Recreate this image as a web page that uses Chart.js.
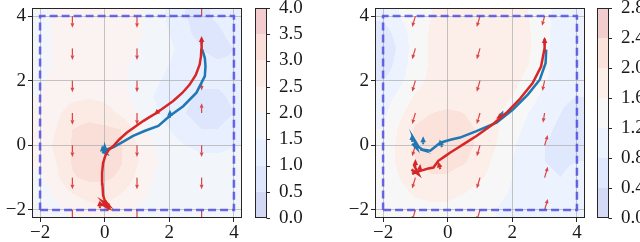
<!DOCTYPE html>
<html>
<head>
<meta charset="utf-8">
<script src="https://cdn.jsdelivr.net/npm/chart.js@4.4.0/dist/chart.umd.min.js"></script>
<style>
  html, body { margin: 0; padding: 0; background: #fff; }
  #wrap { display: flex; width: 640px; height: 242px; }
  canvas { display: block; }
</style>
</head>
<body>
<div id="wrap">
  <canvas id="c1" width="320" height="242"></canvas>
  <canvas id="c2" width="320" height="242"></canvas>
</div>
<script>
// --- datos ---
const axisTicks = [-2, 0, 2, 4];
const gridX = [-2, -1.5, -1, -0.5, 0, 0.5, 1, 1.5, 2, 2.5, 3, 3.5, 4];
const gridY = [4, 3.5, 3, 2.5, 2, 1.5, 1, 0.5, 0, -0.5, -1, -1.5, -2];

const levelsLeft = [0, 0.5, 1, 1.5, 2, 2.5, 3, 3.5, 4];
const levelsRight = [0, 0.4, 0.8, 1.2, 1.6, 2.0, 2.4, 2.8];

// campo de fondo (filas = gridY, columnas = gridX)
const fieldLeft = [
  [1.8, 2.1, 2.2, 2.3, 2.3, 2.2, 2.1, 1.8, 1.4, 1.0, 0.9, 1.1, 1.4],
  [1.8, 2.1, 2.3, 2.3, 2.3, 2.2, 2.1, 1.8, 1.5, 1.1, 0.8, 0.9, 1.2],
  [1.8, 2.1, 2.3, 2.4, 2.3, 2.2, 2.0, 1.8, 1.6, 1.3, 1.0, 0.8, 1.0],
  [1.8, 2.1, 2.3, 2.4, 2.3, 2.1, 1.9, 1.7, 1.5, 1.3, 1.2, 1.1, 1.1],
  [1.9, 2.2, 2.4, 2.5, 2.4, 2.1, 1.8, 1.6, 1.4, 1.2, 1.1, 1.1, 1.2],
  [2.0, 2.3, 2.4, 2.45, 2.4, 2.2, 1.8, 1.5, 1.3, 1.1, 0.9, 0.9, 1.1],
  [2.1, 2.4, 2.7, 2.8, 2.7, 2.4, 2.0, 1.6, 1.3, 1.0, 0.8, 0.8, 1.0],
  [2.2, 2.5, 3.0, 3.15, 3.1, 3.0, 2.3, 1.8, 1.5, 1.2, 1.0, 1.0, 1.2],
  [2.2, 2.6, 3.05, 3.3, 3.25, 3.05, 2.5, 2.0, 1.7, 1.5, 1.4, 1.4, 1.5],
  [2.1, 2.5, 3.05, 3.3, 3.3, 3.05, 2.55, 2.1, 1.8, 1.7, 1.6, 1.6, 1.6],
  [1.9, 2.4, 2.95, 3.1, 3.1, 2.9, 2.4, 2.0, 1.8, 1.7, 1.7, 1.7, 1.7],
  [1.7, 2.1, 2.5, 2.7, 2.7, 2.5, 2.2, 1.9, 1.8, 1.7, 1.7, 1.7, 1.7],
  [1.6, 1.8, 2.1, 2.3, 2.4, 2.2, 2.0, 1.8, 1.7, 1.7, 1.6, 1.6, 1.6]
];
const fieldRight = [
  [0.9, 1.2, 1.45, 1.6, 1.7, 1.75, 1.75, 1.75, 1.7, 1.6, 1.35, 1.0, 0.8],
  [0.6, 1.0, 1.4, 1.65, 1.8, 1.9, 1.95, 1.9, 1.8, 1.65, 1.3, 1.0, 0.9],
  [0.4, 0.9, 1.4, 1.65, 1.8, 1.9, 1.95, 1.95, 1.85, 1.65, 1.3, 1.0, 1.0],
  [0.5, 1.0, 1.4, 1.65, 1.8, 1.9, 1.95, 1.9, 1.8, 1.6, 1.3, 1.0, 1.0],
  [0.8, 1.1, 1.45, 1.7, 1.8, 1.9, 1.9, 1.85, 1.7, 1.5, 1.25, 1.0, 1.0],
  [1.0, 1.3, 1.65, 1.8, 1.85, 1.85, 1.85, 1.75, 1.6, 1.35, 1.1, 0.9, 0.8],
  [1.1, 1.5, 1.85, 2.0, 2.05, 2.0, 1.85, 1.65, 1.45, 1.2, 1.0, 0.8, 0.6],
  [1.2, 1.65, 2.05, 2.2, 2.2, 2.1, 1.95, 1.65, 1.35, 1.1, 0.9, 0.7, 0.6],
  [1.3, 1.7, 2.05, 2.25, 2.3, 2.15, 1.9, 1.6, 1.25, 1.0, 0.8, 0.7, 0.7],
  [1.3, 1.7, 2.0, 2.15, 2.15, 2.05, 1.8, 1.5, 1.2, 1.0, 0.8, 0.75, 0.8],
  [1.3, 1.6, 1.85, 1.95, 1.95, 1.8, 1.65, 1.45, 1.2, 1.0, 0.85, 0.8, 0.9],
  [1.3, 1.45, 1.65, 1.7, 1.7, 1.6, 1.45, 1.3, 1.15, 0.95, 0.85, 0.85, 0.9],
  [1.3, 1.35, 1.45, 1.5, 1.5, 1.4, 1.3, 1.2, 1.05, 0.9, 0.8, 0.8, 0.85]
];

// flechas [x, y, u, v]
const quiverLeft = [
  [-1, 4, 0, -0.36], [-1, 3, 0, -0.36], [-1, 2, 0, -0.36], [-1, 1, 0, -0.36],
  [-1, 0, 0, -0.36], [-1, -1, 0, -0.36], [-1, -2, 0, -0.36],
  [1, 4, 0, -0.36], [1, 3, 0, -0.36], [1, 2, 0, -0.36], [1, 1, 0, -0.36],
  [1, 0, 0, -0.36], [1, -1, 0, -0.36], [1, -2, 0, -0.36],
  [3, 4, 0, 0.36], [3, 2, 0, -0.3], [3, 1, 0, 0.3],
  [3, 0, 0, -0.36], [3, -1, 0, -0.36], [3, -2, 0, -0.36]
];
const quiverRight = [
  [-1, 4, -0.1, -0.34], [-1, 3, -0.1, -0.34], [-1, 2, -0.1, -0.34], [-1, 1, -0.1, -0.34],
  [-1, 0, -0.1, -0.34], [-1, -1, -0.1, -0.34], [-1, -2, -0.1, -0.34],
  [1, 4, -0.1, -0.34], [1, 3, -0.1, -0.34], [1, 2, -0.1, -0.34], [1, 1, -0.1, -0.34],
  [1, 0, -0.1, -0.34], [1, -1, -0.1, -0.34], [1, -2, -0.1, -0.34],
  [3, 4, -0.08, -0.3], [3, 2, -0.07, -0.32], [3, 1, -0.05, -0.3],
  [3, 0, 0.1, 0.32], [3, -1, 0.1, 0.34], [3, -2, 0.1, 0.34]
];

// trayectorias [x, y]
const redLeft = [[0.05,-1.9],[-0.15,-1.8],[0.1,-1.92],[-0.05,-1.75],[0.12,-1.85],[0.0,-1.7],[-0.05,-1.55],
  [-0.07,-1.2],[-0.08,-0.85],[-0.05,-0.55],[0.02,-0.32],[0.12,-0.15],[0.26,-0.03],[0.45,0.18],[0.68,0.39],
  [0.95,0.58],[1.19,0.75],[1.4,0.88],[1.6,1.0],[1.85,1.18],[2.12,1.37],[2.4,1.62],[2.63,1.88],[2.82,2.18],
  [2.94,2.5],[2.98,2.75],[2.99,2.96],[3.0,3.3]];
const blueLeft = [[0.0,-0.2],[-0.06,-0.1],[0.05,-0.25],[-0.03,-0.22],[0.0,-0.05],[0.04,-0.18],[0.1,-0.12],
  [0.26,-0.06],[0.55,0.1],[0.88,0.29],[1.25,0.45],[1.66,0.6],[2.0,0.9],[2.43,1.21],[2.84,1.63],[3.1,2.14],
  [3.12,2.45],[3.1,2.7],[3.02,2.96]];
const redRight = [[-1.0,-0.85],[-1.12,-0.75],[-0.9,-0.9],[-1.05,-0.6],[-0.95,-0.8],[-1.1,-0.88],[-0.85,-0.79],
  [-0.6,-0.72],[-0.44,-0.69],[-0.29,-0.48],[-0.1,-0.35],[0.07,-0.23],[0.28,-0.1],[0.48,0.03],[0.89,0.29],
  [1.4,0.65],[1.81,1.0],[2.22,1.42],[2.63,1.93],[2.89,2.44],[2.99,2.96],[3.0,3.3]];
const blueRight = [[-1.1,0.05],[-0.95,-0.1],[-1.05,0.2],[-0.9,-0.05],[-0.75,-0.15],[-0.85,-0.12],[-0.54,-0.17],
  [-0.23,0.08],[0.08,0.17],[0.38,0.24],[0.89,0.44],[1.51,0.7],[2.02,1.11],[2.48,1.57],[2.85,2.03],
  [3.03,2.54],[3.05,2.96]];

// puntas de flecha sobre las trayectorias [x, y, dx, dy]
const redHeadsLeft = [[3.0,3.38,0,1],[1.52,0.94,-1,-0.8],[-0.15,-1.7,0,1],[0.05,-1.7,0,1],[0.14,-1.78,0.2,1]];
const blueHeadsLeft = [[0.0,0.05,0,1],[-0.08,0.0,-0.1,1],[2.02,1.1,0,1]];
const redHeadsRight = [[3.0,3.35,0,1],[-1.0,-0.42,0,1],[-0.85,-0.58,0.1,1],[-0.3,-0.5,-0.3,1],[1.5,0.82,-1,-0.6]];
const blueHeadsRight = [[-1.1,0.35,0,1],[-0.76,0.28,0,1],[-0.25,0.18,-0.3,1],[1.72,1.08,0.4,1]];

const boxCorners = [[-2,-2],[4,-2],[4,4],[-2,4],[-2,-2]];

// --- colores ---
const coolwarm = [[59,76,192],[98,130,234],[141,176,254],[184,208,249],[221,221,221],
  [245,196,173],[244,154,123],[222,96,77],[180,4,38]];
const FIELD_ALPHA = 0.25;
const FONT = { family: "'Liberation Serif', 'DejaVu Serif', serif", size: 19 };
const INK = '#1a1a1a';

function cmap(t) {
  const f = Math.max(0, Math.min(1, t)) * (coolwarm.length - 1);
  const i = Math.min(coolwarm.length - 2, Math.floor(f)), r = f - i;
  return coolwarm[i].map((c, k) => c + (coolwarm[i + 1][k] - c) * r);
}
function bandColors(levels) {
  const lo = levels[0], hi = levels[levels.length - 1];
  const out = [];
  for (let i = 0; i < levels.length - 1; i++) {
    const mid = (levels[i] + levels[i + 1]) / 2;
    const c = cmap((mid - lo) / (hi - lo));
    out.push(c.map(v => Math.round(255 - (255 - v) * FIELD_ALPHA)));
  }
  return out;
}
function sampleField(field, x, y) {
  let fx = (x - gridX[0]) / 0.5, fy = (gridY[0] - y) / 0.5;
  fx = Math.max(0, Math.min(gridX.length - 1, fx));
  fy = Math.max(0, Math.min(gridY.length - 1, fy));
  const i = Math.min(gridX.length - 2, Math.floor(fx)), j = Math.min(gridY.length - 2, Math.floor(fy));
  const rx = fx - i, ry = fy - j;
  const a = field[j][i], b = field[j][i + 1], c = field[j + 1][i], d = field[j + 1][i + 1];
  return (a * (1 - rx) + b * rx) * (1 - ry) + (c * (1 - rx) + d * rx) * ry;
}
function fmtTick(v) { return v < 0 ? '\u2212' + Math.abs(v) : String(v); }

function drawArrow(ctx, x0, y0, x1, y1, color, width, headLen, headW) {
  const len = Math.hypot(x1 - x0, y1 - y0);
  ctx.save();
  ctx.translate(x0, y0);
  ctx.rotate(Math.atan2(y1 - y0, x1 - x0));
  ctx.fillStyle = color;
  ctx.fillRect(0, -width / 2, Math.max(0, len - headLen), width);
  ctx.beginPath();
  ctx.moveTo(len, 0);
  ctx.lineTo(len - headLen, headW / 2);
  ctx.lineTo(len - headLen, -headW / 2);
  ctx.closePath();
  ctx.fill();
  ctx.restore();
}

// --- plugins ---
const fieldPlugin = {
  id: 'field',
  beforeDraw(chart, args, o) {
    const { ctx, chartArea: a, scales: { x, y } } = chart;
    const w = Math.round(a.right - a.left), h = Math.round(a.bottom - a.top);
    const cols = bandColors(o.levels);
    const off = document.createElement('canvas');
    off.width = w; off.height = h;
    const octx = off.getContext('2d');
    const img = octx.createImageData(w, h);
    for (let j = 0; j < h; j++) {
      const dy = y.getValueForPixel(a.top + j + 0.5);
      for (let i = 0; i < w; i++) {
        const dx = x.getValueForPixel(a.left + i + 0.5);
        const v = sampleField(o.field, dx, dy);
        let k = Math.floor((v - o.levels[0]) / (o.levels[1] - o.levels[0]));
        k = Math.max(0, Math.min(cols.length - 1, k));
        const p = (j * w + i) * 4;
        img.data[p] = cols[k][0]; img.data[p + 1] = cols[k][1]; img.data[p + 2] = cols[k][2]; img.data[p + 3] = 255;
      }
    }
    octx.putImageData(img, 0, 0);
    ctx.drawImage(off, a.left, a.top);
  }
};

const quiverPlugin = {
  id: 'quiver',
  beforeDatasetsDraw(chart, args, o) {
    const { ctx, chartArea: a, scales: { x, y } } = chart;
    ctx.save();
    ctx.beginPath(); ctx.rect(a.left, a.top, a.right - a.left, a.bottom - a.top); ctx.clip();
    o.arrows.forEach(([px, py, u, v]) => {
      drawArrow(ctx, x.getPixelForValue(px), y.getPixelForValue(py),
        x.getPixelForValue(px + u), y.getPixelForValue(py + v), 'rgba(214,39,40,0.85)', 1.2, 4.5, 3.8);
    });
    ctx.restore();
  },
  afterDatasetsDraw(chart, args, o) {
    const { ctx, scales: { x, y } } = chart;
    const heads = (list, color) => list.forEach(([px, py, dx, dy]) => {
      const tx = x.getPixelForValue(px), ty = y.getPixelForValue(py);
      const n = Math.hypot(dx, dy);
      drawArrow(ctx, tx - dx / n * 8, ty + dy / n * 8, tx, ty, color, 2, 6, 5.5);
    });
    heads(o.blueHeads, '#1f77b4');
    heads(o.redHeads, '#d62728');
  },
  afterDraw(chart, args, o) {
    const { ctx, chartArea: a } = chart;
    const cb = chart.scales.cb;
    const cols = bandColors(o.levels);
    const x0 = cb.left + o.cbGap, cw = 11;
    for (let i = 0; i < cols.length; i++) {
      const y1 = cb.getPixelForValue(o.levels[i]), y2 = cb.getPixelForValue(o.levels[i + 1]);
      ctx.fillStyle = `rgb(${cols[i].join(',')})`;
      ctx.fillRect(x0, y2, cw, y1 - y2);
    }
    ctx.strokeStyle = '#262626';
    ctx.lineWidth = 1;
    ctx.strokeRect(x0 + 0.5, a.top + 0.5, cw, a.bottom - a.top - 1);
    ctx.beginPath();
    o.levels.forEach(l => {
      const ty = Math.round(cb.getPixelForValue(l)) + 0.5;
      ctx.moveTo(x0 + cw + 0.5, ty); ctx.lineTo(x0 + cw + 4, ty);
    });
    ctx.stroke();
    // marco de los ejes
    ctx.strokeRect(Math.round(a.left) + 0.5, Math.round(a.top) + 0.5, Math.round(a.right - a.left) - 1, Math.round(a.bottom - a.top) - 1);
  }
};

function pts(list) { return list.map(p => ({ x: p[0], y: p[1] })); }

function makePanel(id, cfg) {
  const gridOpts = { color: 'rgba(176,176,176,0.75)', lineWidth: 1, tickColor: '#262626', tickLength: 4, tickWidth: 1 };
  new Chart(document.getElementById(id), {
    type: 'scatter',
    data: {
      datasets: [
        { data: pts(cfg.red), showLine: true, borderColor: '#d62728', borderWidth: 2.5, pointRadius: 0, tension: 0 },
        { data: pts(cfg.blue), showLine: true, borderColor: '#1f77b4', borderWidth: 2.5, pointRadius: 0, tension: 0 },
        { data: pts(boxCorners), showLine: true, borderColor: 'rgba(70,70,230,0.8)', borderWidth: 2.5,
          borderDash: [8, 4], pointRadius: 0 }
      ]
    },
    options: {
      responsive: false,
      animation: false,
      devicePixelRatio: 1,
      layout: { padding: { top: 8, left: 0, right: 0, bottom: 0 } },
      plugins: {
        legend: { display: false },
        tooltip: { enabled: false },
        field: { field: cfg.field, levels: cfg.levels },
        quiver: { arrows: cfg.quiver, redHeads: cfg.redHeads, blueHeads: cfg.blueHeads, levels: cfg.levels, cbGap: cfg.cbGap }
      },
      scales: {
        x: {
          type: 'linear', min: -2.25, max: 4.25,
          afterBuildTicks: s => { s.ticks = axisTicks.map(v => ({ value: v })); },
          ticks: { callback: fmtTick, font: FONT, color: INK, padding: 0, autoSkip: false, maxRotation: 0 },
          grid: gridOpts, border: { display: false },
          afterFit: s => { s.height = 24; s.paddingLeft = 0; s.paddingRight = 0; }
        },
        y: {
          type: 'linear', min: -2.25, max: 4.25,
          afterBuildTicks: s => { s.ticks = axisTicks.map(v => ({ value: v })); },
          ticks: { callback: fmtTick, font: FONT, color: INK, padding: 2, autoSkip: false },
          grid: gridOpts, border: { display: false },
          afterFit: s => { s.width = cfg.leftW; s.paddingTop = 0; s.paddingBottom = 0; }
        },
        cb: {
          type: 'linear', position: 'right', min: cfg.levels[0], max: cfg.levels[cfg.levels.length - 1],
          afterBuildTicks: s => { s.ticks = cfg.levels.map(v => ({ value: v })); },
          ticks: { callback: v => v.toFixed(1), font: FONT, color: INK, padding: cfg.cbGap + 16, autoSkip: false },
          grid: { display: false }, border: { display: false },
          afterFit: s => { s.width = cfg.cbW; s.paddingTop = 0; s.paddingBottom = 0; }
        }
      }
    },
    plugins: [fieldPlugin, quiverPlugin]
  });
}

makePanel('c1', { field: fieldLeft, levels: levelsLeft, quiver: quiverLeft, red: redLeft, blue: blueLeft,
  redHeads: redHeadsLeft, blueHeads: blueHeadsLeft, leftW: 32, cbW: 78, cbGap: 13 });
makePanel('c2', { field: fieldRight, levels: levelsRight, quiver: quiverRight, red: redRight, blue: blueRight,
  redHeads: redHeadsRight, blueHeads: blueHeadsRight, leftW: 55, cbW: 55, cbGap: 12 });
</script>
</body>
</html>
